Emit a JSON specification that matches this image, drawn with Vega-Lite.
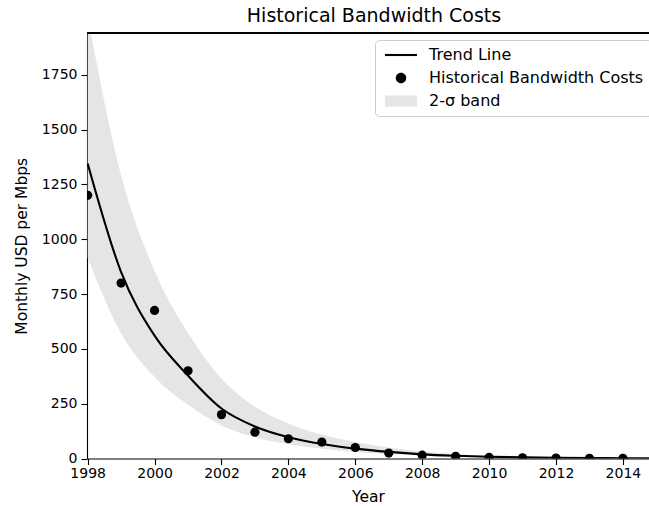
{
  "$schema": "https://vega.github.io/schema/vega-lite/v6.json",
  "width": 562,
  "height": 425.5,
  "autosize": "none",
  "padding": {"left": 87, "top": 33, "right": 0, "bottom": 47.5},
  "config": {
    "font": "DejaVu Sans",
    "view": {"stroke": null},
    "axis": {
      "domainColor": "black", "domainWidth": 1.1,
      "tickColor": "black", "tickWidth": 1.1, "tickSize": 6,
      "labelColor": "black", "labelFontSize": 14, "labelFont": "DejaVu Sans",
      "titleFontSize": 15.5, "titleFontWeight": "normal", "titleColor": "black", "titleFont": "DejaVu Sans",
      "grid": false
    },
    "legend": {
      "orient": "none",
      "legendX": 288,
      "legendY": 7,
      "padding": 7,
      "symbolSize": 100,
      "labelOffset": 31,
      "labelLimit": 400,
      "labelFontSize": 16,
      "labelColor": "black",
      "labelFont": "DejaVu Sans",
      "rowPadding": 7,
      "strokeColor": "#cccccc",
      "cornerRadius": 4,
      "fillColor": "rgba(255,255,255,0.8)",
      "symbolOpacity": 1,
      "symbolStrokeWidth": 0
    }
  },
  "title": {
    "text": "Historical Bandwidth Costs",
    "fontSize": 19, "fontWeight": "normal", "color": "black", "font": "DejaVu Sans",
    "anchor": "middle", "dx": 6, "offset": 6
  },
  "data": {
    "values": [
      {"year": 1998, "cost": 1200, "trend": 1345, "lo": 915, "hi": 2017},
      {"year": 1999, "cost": 800, "trend": 850, "lo": 570, "hi": 1290},
      {"year": 2000, "cost": 675, "trend": 560, "lo": 372, "hi": 855},
      {"year": 2001, "cost": 400, "trend": 378, "lo": 245, "hi": 572},
      {"year": 2002, "cost": 200, "trend": 228, "lo": 151, "hi": 365},
      {"year": 2003, "cost": 120, "trend": 146, "lo": 97, "hi": 236},
      {"year": 2004, "cost": 90, "trend": 97, "lo": 65, "hi": 160},
      {"year": 2005, "cost": 75, "trend": 66, "lo": 44, "hi": 109},
      {"year": 2006, "cost": 50, "trend": 45, "lo": 30, "hi": 75},
      {"year": 2007, "cost": 25, "trend": 30, "lo": 20, "hi": 50},
      {"year": 2008, "cost": 15, "trend": 19, "lo": 12.7, "hi": 32},
      {"year": 2009, "cost": 10, "trend": 12.5, "lo": 8.4, "hi": 21},
      {"year": 2010, "cost": 5, "trend": 8, "lo": 5.4, "hi": 13.5},
      {"year": 2011, "cost": 3, "trend": 5.2, "lo": 3.5, "hi": 8.6},
      {"year": 2012, "cost": 2, "trend": 3.4, "lo": 2.3, "hi": 5.6},
      {"year": 2013, "cost": 1, "trend": 2.2, "lo": 1.5, "hi": 3.6},
      {"year": 2014, "cost": 1, "trend": 1.4, "lo": 0.9, "hi": 2.3},
      {"year": 2015, "cost": null, "trend": 0.9, "lo": 0.6, "hi": 1.5}
    ]
  },
  "layer": [
    {
      "mark": {"type": "area", "color": "#e5e5e5", "interpolate": "monotone", "clip": true},
      "encoding": {
        "x": {
          "field": "year", "type": "quantitative",
          "scale": {"domain": [1997.98, 2014.78], "nice": false, "zero": false},
          "axis": {
            "values": [1998, 2000, 2002, 2004, 2006, 2008, 2010, 2012, 2014],
            "format": "d", "labelFlush": false, "labelPadding": 2, "title": "Year", "titlePadding": 9
          }
        },
        "y": {
          "field": "lo", "type": "quantitative", "title": "Monthly USD per Mbps",
          "scale": {"domain": [0, 1940], "nice": false, "zero": true},
          "axis": {"values": [0, 250, 500, 750, 1000, 1250, 1500, 1750], "format": "d", "labelPadding": 4, "titlePadding": 12}
        },
        "y2": {"field": "hi"}
      }
    },
    {
      "mark": {"type": "line", "color": "black", "strokeWidth": 2.1, "interpolate": "monotone", "clip": true},
      "encoding": {
        "x": {"field": "year", "type": "quantitative", "title": "Year"},
        "y": {"field": "trend", "type": "quantitative", "title": "Monthly USD per Mbps"}
      }
    },
    {
      "transform": [{"filter": "datum.cost != null"}],
      "mark": {"type": "circle", "size": 85, "opacity": 1, "color": "black", "clip": true},
      "encoding": {
        "x": {"field": "year", "type": "quantitative", "title": "Year"},
        "y": {"field": "cost", "type": "quantitative", "title": "Monthly USD per Mbps"}
      }
    },
    {
      "transform": [{"filter": "datum.cost != null"}],
      "mark": {"type": "point", "filled": true, "opacity": 0, "size": 1, "clip": true},
      "encoding": {
        "x": {"field": "year", "type": "quantitative", "title": "Year"},
        "y": {"field": "cost", "type": "quantitative", "title": "Monthly USD per Mbps"},
        "color": {
          "datum": "Historical Bandwidth Costs",
          "scale": {
            "domain": ["Trend Line", "Historical Bandwidth Costs", "2-σ band"],
            "range": ["black", "black", "#e5e5e5"]
          },
          "legend": {"title": null}
        },
        "shape": {
          "datum": "Historical Bandwidth Costs",
          "scale": {
            "domain": ["Trend Line", "Historical Bandwidth Costs", "2-σ band"],
            "range": ["M-1,-0.21H5.4V0.21H-1Z", "M1.15,0A1.05,1.05 0 1 1 3.25,0A1.05,1.05 0 1 1 1.15,0Z", "M-1,-1.1H5.4V1.1H-1Z"]
          },
          "legend": {"title": null}
        }
      }
    },
    {
      "mark": {"type": "rule", "color": "black", "strokeWidth": 1.1},
      "encoding": {"y": {"datum": 1940, "title": "Monthly USD per Mbps"}}
    }
  ]
}
